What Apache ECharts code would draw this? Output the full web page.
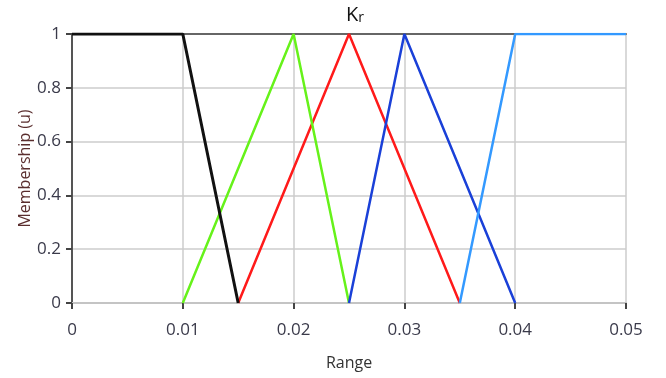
<!DOCTYPE html>
<html><head><meta charset="utf-8">
<script src="https://cdn.jsdelivr.net/npm/echarts@6/dist/echarts.min.js"></script>
<style>html,body{margin:0;padding:0;background:#fff}#c{width:666px;height:378px}</style>
</head><body><div id="c"></div>
<script>
const xTicks = [0, 0.01, 0.02, 0.03, 0.04, 0.05];
const yTicks = [0, 0.2, 0.4, 0.6, 0.8, 1];
const blackX = [0, 0.01, 0.015];      const blackY = [1, 1, 0];
const greenX = [0.01, 0.02, 0.025];   const greenY = [0, 1, 0];
const redX   = [0.015, 0.025, 0.035]; const redY   = [0, 1, 0];
const blueX  = [0.025, 0.03, 0.04];   const blueY  = [0, 1, 0];
const lblueX = [0.035, 0.04, 0.05];   const lblueY = [0, 1, 1];

function pts(xs, ys){ return xs.map((x,i)=>[x, ys[i]]); }
const font = '"Open Sans", "Noto Sans", sans-serif';
function line(data, color, w){ return {type:'line', data, showSymbol:false, lineStyle:{color, width:w||2.5}, itemStyle:{color}, animation:false}; }

const chart = echarts.init(document.getElementById('c'));
chart.setOption({
  animation:false,
  title:{text:'{k|K}{r|r}', left:350, top:-6, textAlign:'center',
    textStyle:{rich:{k:{fontSize:20, fontWeight:'normal', fontFamily:font, color:'#111', verticalAlign:'bottom'}, r:{fontSize:14, fontWeight:'normal', fontFamily:font, color:'#111', padding:[12,0,0,0], verticalAlign:'bottom'}}}},
  grid:{left:72, right:40, top:34, bottom:75},
  xAxis:[{type:'value', min:0, max:0.05, interval:0.01,
    name:'Range', nameLocation:'middle', nameGap:52,
    nameTextStyle:{fontSize:16, fontFamily:font, color:'#333'},
    axisLine:{show:true, lineStyle:{color:'#c4c4c4', width:2}},
    axisTick:{show:true, length:6, lineStyle:{color:'#444', width:2}},
    axisLabel:{fontSize:17, fontFamily:font, color:'#3a3a4a', margin:19, formatter:v=>String(+v.toFixed(2))},
    splitLine:{show:true, lineStyle:{color:'#cccccc', width:1.5}}},
    {type:'value', position:'top', min:0, max:0.05, axisLine:{show:true, lineStyle:{color:'#666', width:2}}, axisTick:{show:false}, axisLabel:{show:false}, splitLine:{show:false}}],
  yAxis:{type:'value', min:0, max:1, interval:0.2,
    name:'Membership (u)', nameLocation:'middle', nameGap:39, nameRotate:90, nameMoveOverlap:false,
    nameTextStyle:{fontSize:16, fontFamily:font, color:'#5a2e2e'},
    axisLine:{show:true, lineStyle:{color:'#555', width:2}},
    axisTick:{show:true, length:6, lineStyle:{color:'#444', width:2}},
    axisLabel:{fontSize:17, fontFamily:font, color:'#3a3a4a', margin:11, formatter:v=>String(+v.toFixed(1))},
    splitLine:{show:true, lineStyle:{color:'#cccccc', width:1.5}}},
  series:[
    line(pts(redX, redY), '#ff1a1a'),
    line(pts(greenX, greenY), '#66f21a'),
    line(pts(blueX, blueY), '#1a40d8'),
    line(pts(lblueX, lblueY), '#3399ff'),
    line(pts(blackX, blackY), '#111111', 3)
  ]
});
</script></body></html>
